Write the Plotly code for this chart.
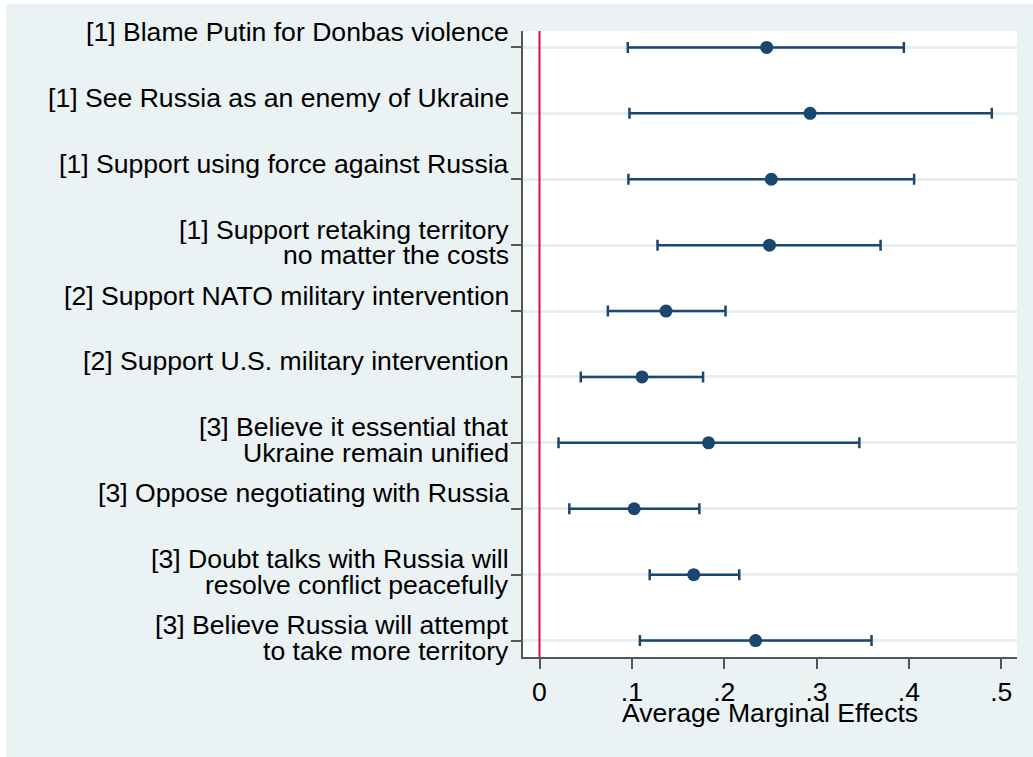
import plotly.graph_objects as go

# ---- data ----
labels = [
    ["[1] Blame Putin for Donbas violence", ""],
    ["[1] See Russia as an enemy of Ukraine", ""],
    ["[1] Support using force against Russia", ""],
    ["[1] Support retaking territory", "no matter the costs"],
    ["[2] Support NATO military intervention", ""],
    ["[2] Support U.S. military intervention", ""],
    ["[3] Believe it essential that", "Ukraine remain unified"],
    ["[3] Oppose negotiating with Russia", ""],
    ["[3] Doubt talks with Russia will", "resolve conflict peacefully"],
    ["[3] Believe Russia will attempt", "to take more territory"],
]
estimate = [0.246, 0.293, 0.251, 0.249, 0.137, 0.111, 0.183, 0.1025, 0.167, 0.234]
ci_low = [0.0956, 0.0974, 0.0963, 0.1278, 0.0740, 0.0447, 0.0206, 0.0323, 0.1193, 0.1087]
ci_high = [0.3945, 0.4897, 0.4056, 0.3693, 0.2014, 0.1771, 0.3463, 0.1731, 0.2163, 0.3595]
x_tickvals = [0, 0.1, 0.2, 0.3, 0.4, 0.5]
x_ticktext = ["0", ".1", ".2", ".3", ".4", ".5"]
x_title = "Average Marginal Effects"

categories = [" ".join(l).strip() for l in labels]

NAVY = "#1a476f"
RED = "#CC1540"
BG = "#EAF2F3"
AXIS = "#555555"
FONT = "Liberation Sans, Arial, sans-serif"
FS = 26.6

fig = go.Figure()
fig.add_trace(go.Scatter(
    x=estimate, y=categories, mode="markers",
    marker=dict(size=13, color=NAVY),
    error_x=dict(type="data", symmetric=False,
                 array=[h - e for h, e in zip(ci_high, estimate)],
                 arrayminus=[e - l for e, l in zip(estimate, ci_low)],
                 color=NAVY, thickness=2.5, width=5.5),
    showlegend=False, cliponaxis=False,
))

# reference line at zero
fig.add_shape(type="line", xref="x", yref="paper", x0=0, x1=0, y0=0, y1=1,
              line=dict(color=RED, width=2), layer="above")

# y category labels (tight two-line spacing like the original)
ann = []
for i, (l1, l2) in enumerate(labels):
    ann.append(dict(xref="paper", yref="y", x=0, y=i, xanchor="right", yanchor="middle",
                    xshift=-12.5, yshift=15.5, text=l1, showarrow=False,
                    font=dict(family=FONT, size=FS, color="black")))
    if l2:
        ann.append(dict(xref="paper", yref="y", x=0, y=i, xanchor="right", yanchor="middle",
                        xshift=-12.5, yshift=-10.2, text=l2, showarrow=False,
                        font=dict(family=FONT, size=FS, color="black")))
# x-axis title
ann.append(dict(xref="paper", yref="paper", x=0.5, y=0, xanchor="center", yanchor="top",
                yshift=-38.5, text=x_title, showarrow=False,
                font=dict(family=FONT, size=FS, color="black")))

W, H = 1033, 757
L, R, T, B = 523, 16, 31, 100
pw, ph = W - L - R, H - T - B
# thin white strips on left / top edges of the image
def px2paper_x(px):
    return (px - L) / pw
def px2paper_y(py):
    return (H - B - py) / ph
shapes_extra = [
    dict(type="rect", xref="paper", yref="paper", layer="above",
         x0=px2paper_x(-2), x1=px2paper_x(6), y0=px2paper_y(H + 2), y1=px2paper_y(-2),
         fillcolor="white", line=dict(width=0)),
    dict(type="rect", xref="paper", yref="paper", layer="above",
         x0=px2paper_x(-2), x1=px2paper_x(W + 2), y0=px2paper_y(4), y1=px2paper_y(-2),
         fillcolor="white", line=dict(width=0)),
]
for s in shapes_extra:
    fig.add_shape(**s)

fig.update_layout(
    width=W, height=H,
    margin=dict(l=L, r=R, t=T, b=B, autoexpand=False),
    paper_bgcolor=BG, plot_bgcolor="white",
    font=dict(family=FONT, size=FS, color="black"),
    annotations=ann,
    xaxis=dict(range=[-0.01786, 0.5170], tickvals=x_tickvals, ticktext=x_ticktext,
               showgrid=False, zeroline=False, showline=True, linecolor=AXIS, linewidth=1.5,
               ticks="outside", ticklen=10, tickwidth=1.5, tickcolor=AXIS,
               ticklabelstandoff=0,
               tickfont=dict(family=FONT, size=FS, color="black"), automargin=False),
    yaxis=dict(type="category", categoryorder="array", categoryarray=categories,
               range=[len(categories) - 0.75, -0.25],
               showgrid=True, gridcolor="#E6EEF1", gridwidth=2.5,
               zeroline=False, showline=True, linecolor=AXIS, linewidth=1.5,
               ticks="outside", ticklen=10, tickwidth=1.5, tickcolor=AXIS,
               showticklabels=False, automargin=False),
)

fig.write_html("out.html")
